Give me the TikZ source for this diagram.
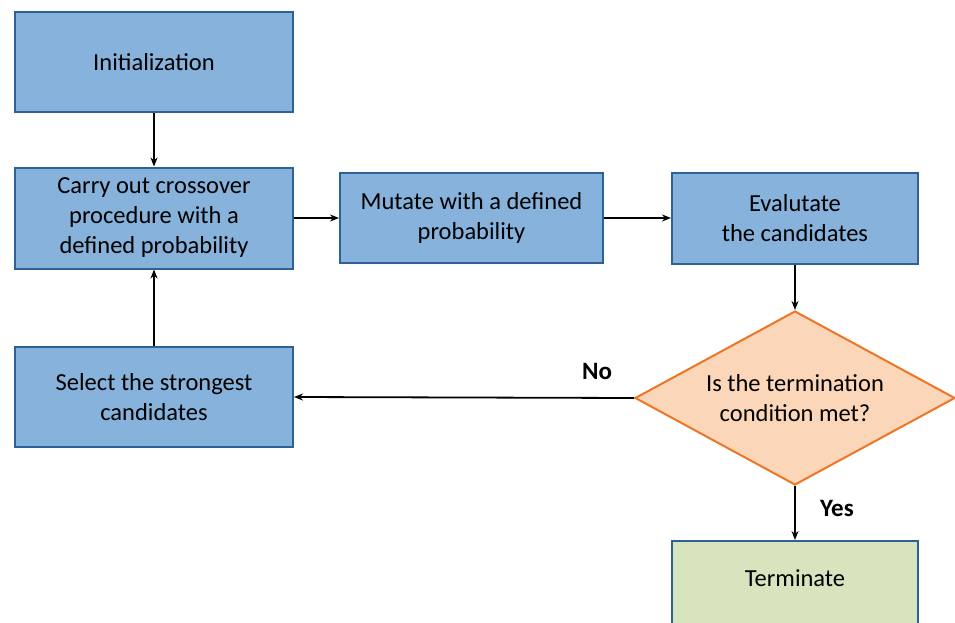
\documentclass[tikz,border=0pt]{standalone}
\usepackage{fontspec}
\setmainfont{Carlito}
\usetikzlibrary{shapes.geometric,arrows.meta}
\definecolor{boxblue}{RGB}{134,178,219}
\definecolor{edgeblue}{RGB}{46,98,150}
\definecolor{peach}{RGB}{251,214,184}
\definecolor{orangeedge}{RGB}{237,118,38}
\definecolor{lightgreen}{RGB}{215,228,189}
\begin{document}
\begin{tikzpicture}[x=1pt,y=-1pt,
  every node/.style={font=\fontsize{24.5}{30}\selectfont, align=center},
  bluebox/.style={draw=edgeblue, fill=boxblue, line width=2pt, inner sep=0pt},
  termbox/.style={draw=edgeblue, fill=lightgreen, line width=2pt, inner sep=0pt},
  decision/.style={diamond, draw=orangeedge, fill=peach, line width=2pt, inner sep=0pt, aspect=1.84, minimum width=320pt, minimum height=174pt},
  conn/.style={line width=1.8pt, -{Stealth[length=9pt,width=7pt]}},
  lbl/.style={font=\fontsize{25}{28}\selectfont\bfseries}
]
\path[use as bounding box, clip] (0,0) rectangle (955,623);
\node[bluebox, minimum width=278pt, minimum height=100pt] (init) at (154,62) {Initialization};
\node[bluebox, minimum width=278pt, minimum height=101pt] (cross) at (154,218) {Carry out crossover\\procedure with a\\defined probability};
\node[bluebox, minimum width=263pt, minimum height=90pt] (mut) at (471.5,218) {Mutate with a defined\\probability};
\node[bluebox, minimum width=246pt, minimum height=91pt] (eval) at (795,218) {Evalutate\\the candidates};
\node[bluebox, minimum width=278pt, minimum height=100pt] (sel) at (154,397) {Select the strongest\\candidates};
\node[decision] (dec) at (795,398) {Is the termination\\condition met?};
\node[termbox, minimum width=246pt, minimum height=110pt, anchor=north] (term) at (795,540) {};
\node (termtext) at (795,578) {Terminate};
\node[lbl] (no) at (597,371) {No};
\node[lbl] (yes) at (837,508) {Yes};
\draw[conn] (init.south) -- (cross.north);
\draw[conn] (cross.east) -- (mut.west);
\draw[conn] (mut.east) -- (eval.west);
\draw[conn] (eval.south) -- (dec.north);
\draw[conn] (dec.west) -- (sel.east);
\draw[conn] (sel.north) -- (cross.south);
\draw[conn] (dec.south) -- (term.north);
\end{tikzpicture}
\end{document}
